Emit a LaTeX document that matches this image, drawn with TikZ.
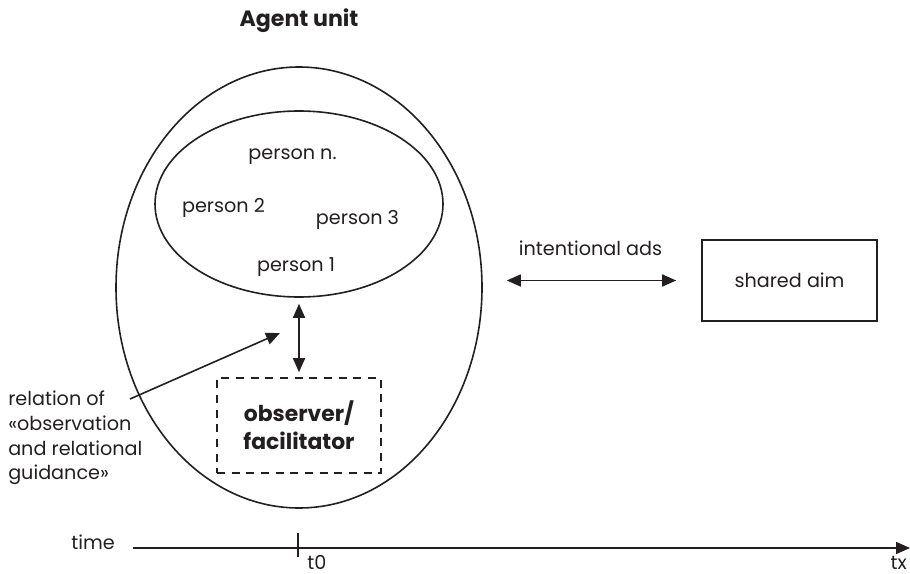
\documentclass[tikz,border=0pt]{standalone}
\usepackage{fontspec}
\setmainfont{Poppins}
\usepackage{tikz}
\usetikzlibrary{arrows.meta, positioning, shapes.geometric}
\definecolor{inkgray}{RGB}{35,31,32}

\begin{document}
\begin{tikzpicture}[
          x=0.75pt, y=-0.75pt,
          font=\fontsize{14.4}{18.4}\selectfont, text=inkgray,
          ring/.style={
            ellipse, draw=inkgray, line width=1.2pt, inner sep=0pt
          },
          person/.style={anchor=base, inner sep=0pt},
          plainbox/.style={
            rectangle, draw=inkgray, line width=1.2pt,
            minimum width=131.25pt, minimum height=60.75pt
          },
          dashbox/.style={
            rectangle, draw=inkgray, line width=1.2pt,
            dash pattern=on 6pt off 5pt,
            minimum width=123pt, minimum height=71.25pt,
            align=center, font=\fontsize{16.4}{21}\selectfont\bfseries
          },
          twoway/.style={
            {Triangle[length=10.5pt,width=9pt]}-{Triangle[length=10.5pt,width=9pt]},
            line width=1.2pt, draw=inkgray
          },
          arrow/.style={
            -{Triangle[length=10.5pt,width=9pt]}, line width=1.2pt, draw=inkgray
          }
        ]
          \useasboundingbox (0,0) rectangle (910,574);

          % agent unit
          \node[anchor=base, inner sep=0pt, font=\fontsize{16.6}{20}\selectfont\bfseries] (title) at (299,27) {Agent unit};
          \node[ring, minimum width=274.5pt, minimum height=330.75pt] (outer) at (299,287.5) {};
          \node[ring, minimum width=216pt, minimum height=139.5pt] (inner) at (299,204) {};
          \node[person] (pn) at (292.5,160) {person n.};
          \node[person] (p2) at (223.5,212) {person 2};
          \node[person] (p3) at (357.5,224) {person 3};
          \node[person] (p1) at (296,271) {person 1};

          \node[dashbox] (obs) at (299,425.5) {observer/\\facilitator};
          \draw[twoway, shorten <=4.5pt, shorten >=3.75pt] (inner.south -| obs.north) -- (obs.north);

          % relation label
          \node[align=left, anchor=north west, inner sep=0pt] (rel) at (8,391)
            {relation of\\«observation\\and relational\\guidance»};
          \coordinate (relstart) at (130,399);
          \coordinate (relend) at (280,333);
          \draw[arrow] (relstart) -- (relend);

          % shared aim
          \node[plainbox] (aim) at (789.5,280.5) {shared aim};
          \node[anchor=base, inner sep=0pt] (ads) at (590.5,255) {intentional ads};
          \draw[twoway, shorten <=18pt, shorten >=18.75pt] (outer.east |- aim.west) -- (aim.west);

          % time axis
          \node[anchor=base east, inner sep=0pt] (time) at (115,549) {time};
          \coordinate (axstart) at (133,548);
          \coordinate (axend) at (910,548);
          \draw[arrow] (axstart) -- (axend);
          \coordinate (t0) at (298,548);
          \draw[line width=1.2pt, draw=inkgray] (t0) ++(0,-15) -- ++(0,24);
          \node[anchor=base west, inner sep=0pt] (t0lab) at (307,569) {t0};
          \node[anchor=base east, inner sep=0pt] (txlab) at (907,569) {tx};
        \end{tikzpicture}
\end{document}
